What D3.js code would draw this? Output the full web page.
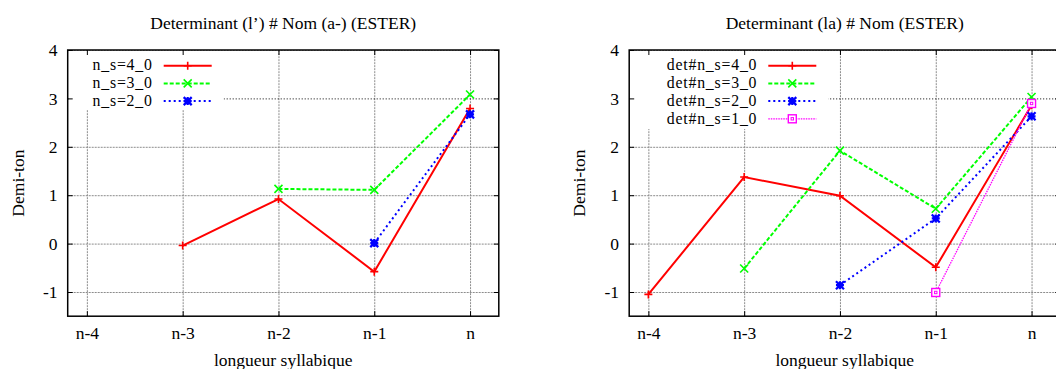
<!DOCTYPE html>
<html>
<head>
<meta charset="utf-8">
<script src="https://cdn.jsdelivr.net/npm/d3@7"></script>
<style>
  body { margin: 0; background: #fff; }
  svg { display: block; font-family: "Liberation Serif", "DejaVu Serif", serif; }
</style>
</head>
<body>
<div id="chart"></div>
<script>
// categories and ticks
var categories = ["n-4", "n-3", "n-2", "n-1", "n"];
var yTicks = [-1, 0, 1, 2, 3, 4];

// left panel
var leftTitle = "Determinant (l\u2019) # Nom (a-) (ESTER)";
var leftNames = ["n_s=4_0", "n_s=3_0", "n_s=2_0"];
var left_ns4 = [null, -0.04, 0.92, -0.58, 2.79];
var left_ns3 = [null, null, 1.13, 1.11, 3.08];
var left_ns2 = [null, null, null, 0.01, 2.67];

// right panel
var rightTitle = "Determinant (la) # Nom (ESTER)";
var rightNames = ["det#n_s=4_0", "det#n_s=3_0", "det#n_s=2_0", "det#n_s=1_0"];
var right_ns4 = [-1.05, 1.375, 0.99, -0.49, 2.86];
var right_ns3 = [null, -0.515, 1.92, 0.72, 3.03];
var right_ns2 = [null, null, -0.86, 0.52, 2.63];
var right_ns1 = [null, null, null, -1.01, 2.895];

var xLabel = "longueur syllabique";
var yLabel = "Demi-ton";

// series styles
var styles = [
    { color: "#ff0000", dash: null, width: 2, marker: "plus" },
    { color: "#00ff00", dash: "4,2", width: 2, marker: "cross" },
    { color: "#0000ff", dash: "2,3", width: 2, marker: "star" },
    { color: "#ff00ff", dash: "1.5,1", width: 1.3, marker: "square" }
];

var fs = 17.5;

var svg = d3.select("#chart").append("svg")
    .attr("width", 1056)
    .attr("height", 369);

function drawPanel(opts) {
    var unit = 95.8;
    var x = d3.scaleLinear().domain([-0.2, 4.3]).range([opts.left, opts.left + 4.5 * unit]);
    var y = d3.scaleLinear().domain([-1.5, 4]).range([316.2, 50]);
    var x0 = x.range()[0], x1 = x.range()[1];
    var y0 = y.range()[1], y1 = y.range()[0];
    var w = x1 - x0, h = y1 - y0;
    var idx = d3.range(categories.length);

    var g = svg.append("g");

    // grid
    var gx = g.append("g")
        .attr("transform", "translate(0," + y1 + ")")
        .call(d3.axisBottom(x).tickValues(idx).tickSize(-h).tickFormat(""));
    var gy = g.append("g")
        .attr("transform", "translate(" + x0 + ",0)")
        .call(d3.axisLeft(y).tickValues(yTicks).tickSize(-w).tickFormat(""));
    [gx, gy].forEach(function(s) {
        s.select(".domain").remove();
        s.selectAll(".tick line")
            .attr("stroke", "#8c8c8c")
            .attr("stroke-width", 1)
            .attr("stroke-dasharray", "2,1");
    });
    // the y=3 grid line shows as fine black dots
    gy.selectAll(".tick").filter(function(d) { return d == 3; }).select("line")
        .attr("stroke", "#000")
        .attr("stroke-dasharray", "1,2");

    // legend background hides grid
    g.append("rect")
        .attr("x", x0 + 1)
        .attr("y", y0 + 1)
        .attr("width", opts.legendW)
        .attr("height", opts.legendH)
        .attr("fill", "#fff");

    // lines
    var line = d3.line()
        .defined(function(d) { return d != null; })
        .x(function(d, i) { return x(i); })
        .y(function(d) { return y(d); });

    opts.series.forEach(function(vals, k) {
        var st = styles[k];
        g.append("path")
            .datum(vals)
            .attr("fill", "none")
            .attr("stroke", st.color)
            .attr("stroke-width", st.width)
            .attr("stroke-dasharray", st.dash)
            .attr("d", line);
        vals.forEach(function(v, i) {
            if (v == null) return;
            drawMarker(g, st, x(i), y(v));
        });
    });

    // frame and ticks
    g.append("rect")
        .attr("x", x0).attr("y", y0)
        .attr("width", w).attr("height", h)
        .attr("fill", "none")
        .attr("stroke", "#000")
        .attr("stroke-width", 1.5);

    var bottom = g.append("g")
        .attr("transform", "translate(0," + y1 + ")")
        .call(d3.axisBottom(x).tickValues(idx).tickSizeInner(-5).tickSizeOuter(0).tickPadding(10.4)
            .tickFormat(function(i) { return categories[i]; }));
    var top = g.append("g")
        .attr("transform", "translate(0," + y0 + ")")
        .call(d3.axisTop(x).tickValues(idx).tickSizeInner(-5).tickSizeOuter(0).tickFormat(""));
    var leftAx = g.append("g")
        .attr("transform", "translate(" + x0 + ",0)")
        .call(d3.axisLeft(y).tickValues(yTicks).tickSizeInner(-5).tickSizeOuter(0).tickPadding(10.2)
            .tickFormat(function(d) { return String(d); }));
    var rightAx = g.append("g")
        .attr("transform", "translate(" + x1 + ",0)")
        .call(d3.axisRight(y).tickValues(yTicks).tickSizeInner(-5).tickSizeOuter(0).tickFormat(""));
    [bottom, top, leftAx, rightAx].forEach(function(a) {
        a.select(".domain").remove();
        a.selectAll(".tick line").attr("stroke", "#000").attr("stroke-width", 1);
        a.selectAll("text")
            .attr("font-family", "Liberation Serif, serif")
            .attr("font-size", fs)
            .attr("fill", "#000");
    });

    // legend (slightly smaller type, spaced out to keep the width)
    opts.names.forEach(function(name, k) {
        var st = styles[k];
        var ly = 65.7 + k * 17.7;
        g.append("text")
            .attr("x", opts.legendText)
            .attr("y", ly)
            .attr("dy", "0.3em")
            .attr("text-anchor", "end")
            .attr("font-size", 15.8)
            .attr("letter-spacing", 0.8)
            .text(name);
        g.append("line")
            .attr("x1", opts.legendText + 11)
            .attr("x2", opts.legendText + 59)
            .attr("y1", ly).attr("y2", ly)
            .attr("stroke", st.color)
            .attr("stroke-width", st.width)
            .attr("stroke-dasharray", st.dash);
        drawMarker(g, st, opts.legendText + 35, ly);
    });

    // titles
    var cx = (x0 + x1) / 2;
    g.append("text")
        .attr("x", cx).attr("y", 28.5)
        .attr("text-anchor", "middle")
        .attr("font-size", fs)
        .text(opts.title);
    g.append("text")
        .attr("x", cx).attr("y", 366)
        .attr("text-anchor", "middle")
        .attr("font-size", fs)
        .text(xLabel);
    g.append("text")
        .attr("transform", "translate(" + opts.yLabelX + "," + ((y0 + y1) / 2) + ") rotate(-90)")
        .attr("text-anchor", "middle")
        .attr("font-size", fs)
        .text(yLabel);
}

function drawMarker(g, st, cx, cy) {
    var r = 4;
    var m = g.append("g").attr("transform", "translate(" + cx + "," + cy + ")")
        .attr("stroke", st.color).attr("stroke-width", 1.6).attr("fill", "none");
    if (st.marker == "plus") {
        m.append("path").attr("d", "M" + -r + ",0H" + r + "M0," + -r + "V" + r);
    } else if (st.marker == "cross") {
        m.append("path").attr("d", "M" + -r + "," + -r + "L" + r + "," + r + "M" + -r + "," + r + "L" + r + "," + -r);
    } else if (st.marker == "star") {
        m.append("path").attr("d", "M" + -r + ",0H" + r + "M0," + -r + "V" + r +
            "M" + -r + "," + -r + "L" + r + "," + r + "M" + -r + "," + r + "L" + r + "," + -r)
            .attr("stroke-width", 2.2);
        m.append("rect").attr("x", -2.5).attr("y", -2.5).attr("width", 5).attr("height", 5)
            .attr("fill", st.color).attr("stroke", "none");
    } else if (st.marker == "square") {
        m.append("rect").attr("x", -r).attr("y", -r).attr("width", 2 * r).attr("height", 2 * r)
            .attr("stroke-width", 1.4).attr("fill", "#fff");
        m.append("rect").attr("x", -1.2).attr("y", -1.2).attr("width", 2.4).attr("height", 2.4)
            .attr("stroke-width", 1);
    }
}

drawPanel({
    left: 67.7,
    title: leftTitle,
    names: leftNames,
    series: [left_ns4, left_ns3, left_ns2],
    legendText: 152.7,
    legendW: 155,
    legendH: 59,
    yLabelX: 24
});

drawPanel({
    left: 629.2,
    title: rightTitle,
    names: rightNames,
    series: [right_ns4, right_ns3, right_ns2, right_ns1],
    legendText: 757.3,
    legendW: 198,
    legendH: 78,
    yLabelX: 584.5
});
</script>
</body>
</html>
